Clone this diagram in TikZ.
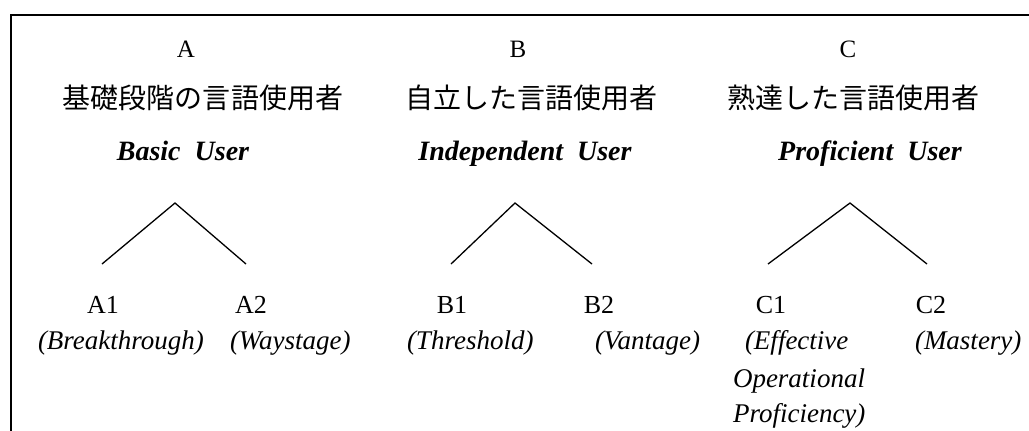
\documentclass[tikz,border=0pt]{standalone}
\usepackage{fontspec}
\setmainfont{Liberation Serif}
\newfontfamily\jpfont{Noto Sans CJK JP}
\begin{document}
\begin{tikzpicture}[x=1bp,y=-1bp,
  every node/.style={inner sep=0pt, outer sep=0pt},
  grade/.style={anchor=base, font=\fontsize{25bp}{28bp}\selectfont},
  jlabel/.style={font=\jpfont\fontsize{28bp}{32bp}\selectfont},
  elabel/.style={anchor=base, font=\bfseries\itshape\fontsize{28bp}{32bp}\selectfont},
  sublevel/.style={anchor=base, font=\fontsize{26bp}{30bp}\selectfont},
  gloss/.style={anchor=base west, font=\itshape\fontsize{27bp}{32bp}\selectfont},
  branch/.style={line width=1.3bp},
  frameline/.style={line width=2bp}]
\useasboundingbox (0,0) rectangle (1029,430);

% open frame: top and left edges only
\draw[frameline] (11,440) -- (11,15) -- (1040,15);

% common reference levels
\node[grade] (gA) at (186,57) {A};
\node[grade] (gB) at (518,57) {B};
\node[grade] (gC) at (848,57) {C};

\node[jlabel] (jA) at (203,97.5) {基礎段階の言語使用者};
\node[jlabel] (jB) at (531,97.5) {自立した言語使用者};
\node[jlabel] (jC) at (853,97.5) {熟達した言語使用者};

\node[elabel] (eA) at (183,160) {Basic\ \ User};
\node[elabel] (eB) at (525,160) {Independent\ \ User};
\node[elabel] (eC) at (870,160) {Proficient\ \ User};

% branching points
\coordinate (apA) at (175,203);
\coordinate (apB) at (515,203);
\coordinate (apC) at (850,203);
\coordinate (ftA1) at (102,264);
\coordinate (ftA2) at (246,264);
\coordinate (ftB1) at (451,264);
\coordinate (ftB2) at (592,264);
\coordinate (ftC1) at (768,264);
\coordinate (ftC2) at (927,264);

\draw[branch] (ftA1) -- (apA) -- (ftA2);
\draw[branch] (ftB1) -- (apB) -- (ftB2);
\draw[branch] (ftC1) -- (apC) -- (ftC2);

% sub-levels
\node[sublevel] (sA1) at (103,313) {A1};
\node[sublevel] (sA2) at (251,313) {A2};
\node[sublevel] (sB1) at (452,313) {B1};
\node[sublevel] (sB2) at (599,313) {B2};
\node[sublevel] (sC1) at (771,313) {C1};
\node[sublevel] (sC2) at (931,313) {C2};

\node[gloss] (gA1) at (38,349) {(Breakthrough)};
\node[gloss] (gA2) at (230,349) {(Waystage)};
\node[gloss] (gB1) at (407,349) {(Threshold)};
\node[gloss] (gB2) at (595,349) {(Vantage)};
\node[gloss] (gC1a) at (745,349) {(Effective};
\node[gloss] (gC1b) at (733,387) {Operational};
\node[gloss] (gC1c) at (733,422) {Proficiency)};
\node[gloss] (gC2) at (915,349) {(Mastery)};
\end{tikzpicture}
\end{document}
